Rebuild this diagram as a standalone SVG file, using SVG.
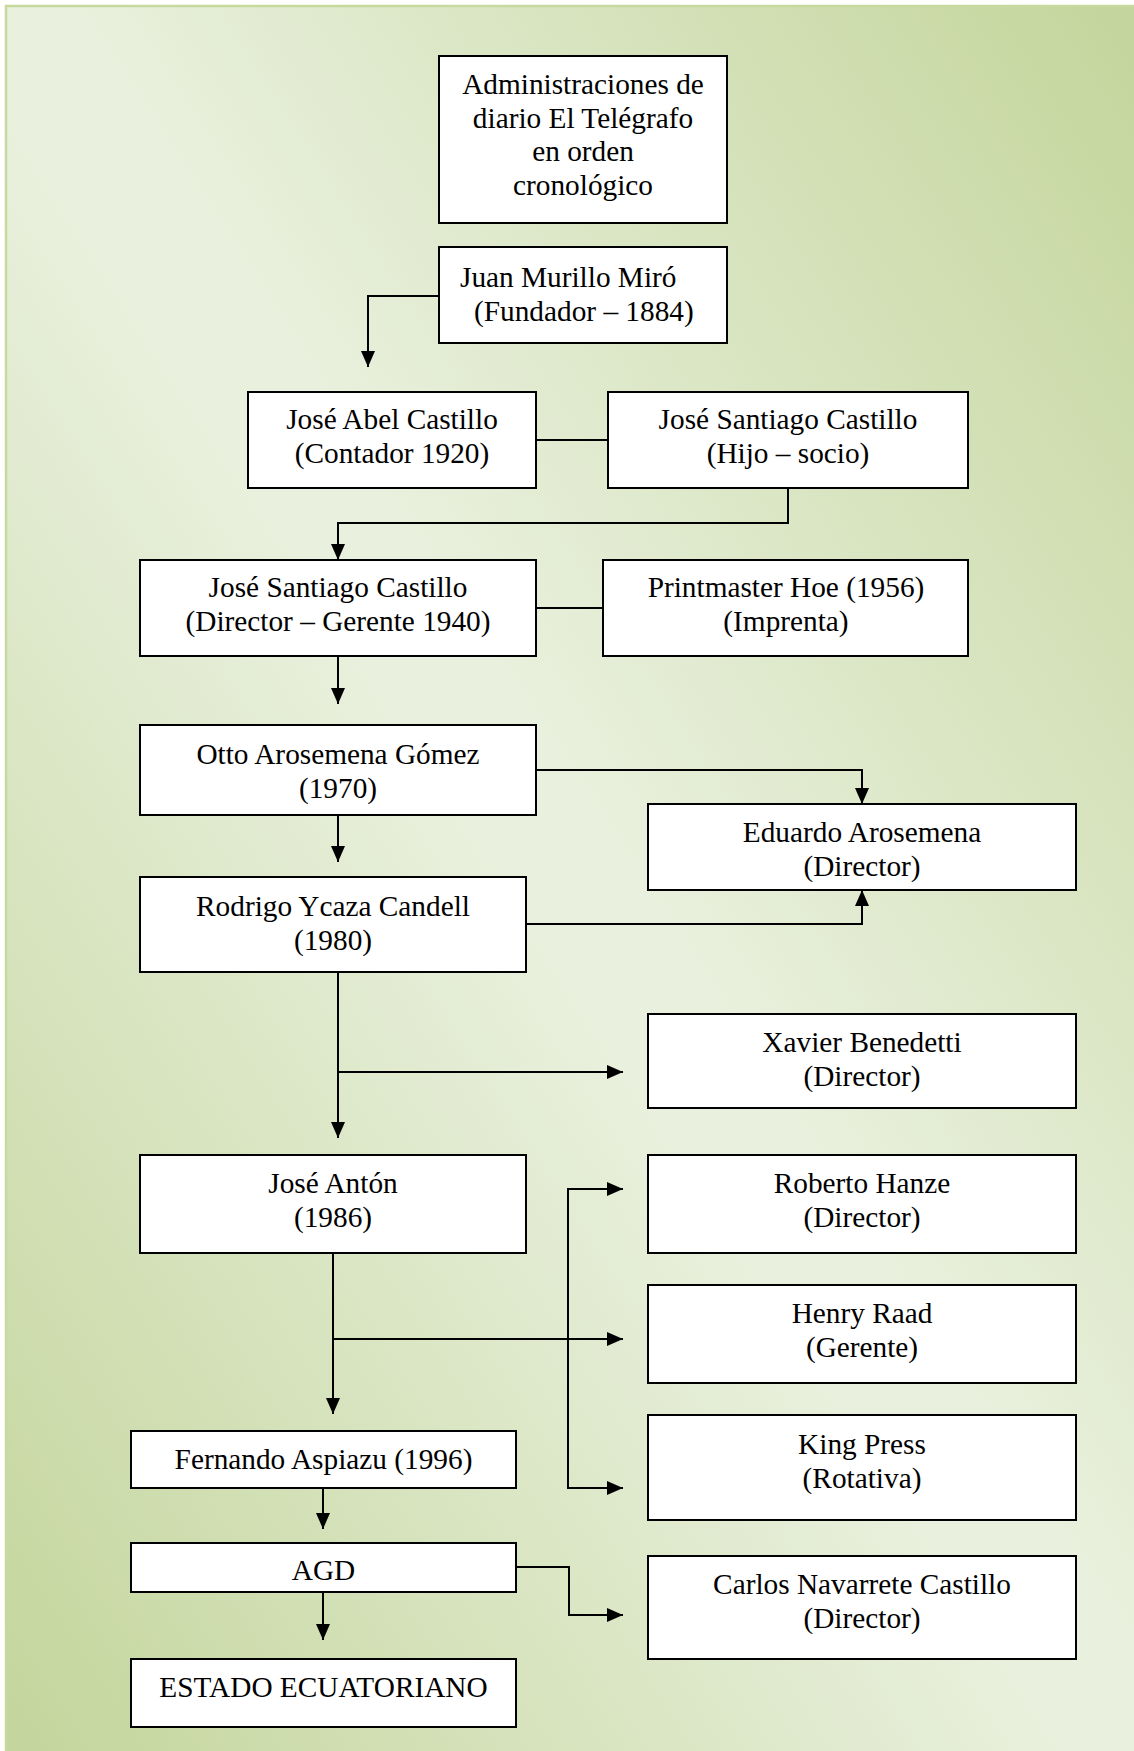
<svg xmlns="http://www.w3.org/2000/svg" width="1134" height="1751" viewBox="0 0 1134 1751">
<defs>
<linearGradient id="bg" x1="1" y1="0" x2="0" y2="1">
<stop offset="0" stop-color="#c3d59b"/>
<stop offset="0.47" stop-color="#e9f0dd"/>
<stop offset="0.53" stop-color="#e9f0dd"/>
<stop offset="1" stop-color="#c3d59b"/>
</linearGradient>
<marker id="ah" markerUnits="userSpaceOnUse" markerWidth="16" markerHeight="14" refX="16" refY="7" orient="auto">
<path d="M0,0 L16,7 L0,14 z" fill="#000"/>
</marker>
<style>
.box{fill:#fff;stroke:#000;stroke-width:2}
.t{font-family:"Liberation Serif","Times New Roman",serif;font-size:29.3px;fill:#000;text-anchor:middle}
.tl{font-family:"Liberation Serif","Times New Roman",serif;font-size:29.3px;fill:#000}
.c{fill:none;stroke:#000;stroke-width:2}
.ca{fill:none;stroke:#000;stroke-width:2;marker-end:url(#ah)}
</style>
</defs>
<rect x="0" y="0" width="1134" height="1751" fill="#fff"/>
<rect x="5" y="5" width="1129" height="1746" fill="url(#bg)"/>
<path d="M6,1751 V6 H1134" fill="none" stroke="#c6da9f" stroke-width="2.5"/>

<g id="connectors">
<path class="ca" d="M439,296 H368 V367"/>
<path class="c" d="M536,440 H608"/>
<path class="ca" d="M788,488 V523 H338 V560"/>
<path class="c" d="M536,608 H603"/>
<path class="ca" d="M338,656 V704"/>
<path class="ca" d="M536,770 H862 V804"/>
<path class="ca" d="M338,815 V862"/>
<path class="ca" d="M526,924 H862 V890"/>
<path class="ca" d="M338,972 V1138"/>
<path class="ca" d="M338,1072 H623"/>
<path class="ca" d="M333,1253 V1414"/>
<path class="ca" d="M333,1339 H623"/>
<path class="ca" d="M568,1339 V1189 H623"/>
<path class="ca" d="M568,1339 V1488 H623"/>
<path class="ca" d="M323,1488 V1529"/>
<path class="ca" d="M323,1592 V1640"/>
<path class="ca" d="M516,1567 H569 V1615 H623"/>
</g>

<g id="title">
<rect class="box" x="439" y="56" width="288" height="167"/>
<text class="t" x="583" y="94">Administraciones de</text>
<text class="t" x="583" y="128">diario El Telégrafo</text>
<text class="t" x="583" y="161">en orden</text>
<text class="t" x="583" y="195">cronológico</text>
</g>
<g id="juan-murillo">
<rect class="box" x="439" y="247" width="288" height="96"/>
<text class="tl" x="460" y="287">Juan Murillo Miró</text>
<text class="tl" x="474" y="321">(Fundador – 1884)</text>
</g>
<g id="jose-abel">
<rect class="box" x="248" y="392" width="288" height="96"/>
<text class="t" x="392" y="429">José Abel Castillo</text>
<text class="t" x="392" y="463">(Contador 1920)</text>
</g>
<g id="jose-santiago-hijo">
<rect class="box" x="608" y="392" width="360" height="96"/>
<text class="t" x="788" y="429">José Santiago Castillo</text>
<text class="t" x="788" y="463">(Hijo – socio)</text>
</g>
<g id="jose-santiago-director">
<rect class="box" x="140" y="560" width="396" height="96"/>
<text class="t" x="338" y="597">José Santiago Castillo</text>
<text class="t" x="338" y="631">(Director – Gerente 1940)</text>
</g>
<g id="printmaster">
<rect class="box" x="603" y="560" width="365" height="96"/>
<text class="t" x="786" y="597">Printmaster Hoe (1956)</text>
<text class="t" x="786" y="631">(Imprenta)</text>
</g>
<g id="otto">
<rect class="box" x="140" y="725" width="396" height="90"/>
<text class="t" x="338" y="764">Otto Arosemena Gómez</text>
<text class="t" x="338" y="798">(1970)</text>
</g>
<g id="eduardo">
<rect class="box" x="648" y="804" width="428" height="86"/>
<text class="t" x="862" y="842">Eduardo Arosemena</text>
<text class="t" x="862" y="876">(Director)</text>
</g>
<g id="rodrigo">
<rect class="box" x="140" y="877" width="386" height="95"/>
<text class="t" x="333" y="916">Rodrigo Ycaza Candell</text>
<text class="t" x="333" y="950">(1980)</text>
</g>
<g id="xavier">
<rect class="box" x="648" y="1014" width="428" height="94"/>
<text class="t" x="862" y="1052">Xavier Benedetti</text>
<text class="t" x="862" y="1086">(Director)</text>
</g>
<g id="jose-anton">
<rect class="box" x="140" y="1155" width="386" height="98"/>
<text class="t" x="333" y="1193">José Antón</text>
<text class="t" x="333" y="1227">(1986)</text>
</g>
<g id="roberto">
<rect class="box" x="648" y="1155" width="428" height="98"/>
<text class="t" x="862" y="1193">Roberto Hanze</text>
<text class="t" x="862" y="1227">(Director)</text>
</g>
<g id="henry">
<rect class="box" x="648" y="1285" width="428" height="98"/>
<text class="t" x="862" y="1323">Henry Raad</text>
<text class="t" x="862" y="1357">(Gerente)</text>
</g>
<g id="king-press">
<rect class="box" x="648" y="1415" width="428" height="105"/>
<text class="t" x="862" y="1454">King Press</text>
<text class="t" x="862" y="1488">(Rotativa)</text>
</g>
<g id="fernando">
<rect class="box" x="131" y="1431" width="385" height="57"/>
<text class="t" x="323.5" y="1469">Fernando Aspiazu (1996)</text>
</g>
<g id="agd">
<rect class="box" x="131" y="1543" width="385" height="49"/>
<text class="t" x="323.5" y="1580">AGD</text>
</g>
<g id="estado">
<rect class="box" x="131" y="1659" width="385" height="68"/>
<text class="t" x="323.5" y="1697">ESTADO ECUATORIANO</text>
</g>
<g id="carlos">
<rect class="box" x="648" y="1556" width="428" height="103"/>
<text class="t" x="862" y="1594">Carlos Navarrete Castillo</text>
<text class="t" x="862" y="1628">(Director)</text>
</g>
</svg>
